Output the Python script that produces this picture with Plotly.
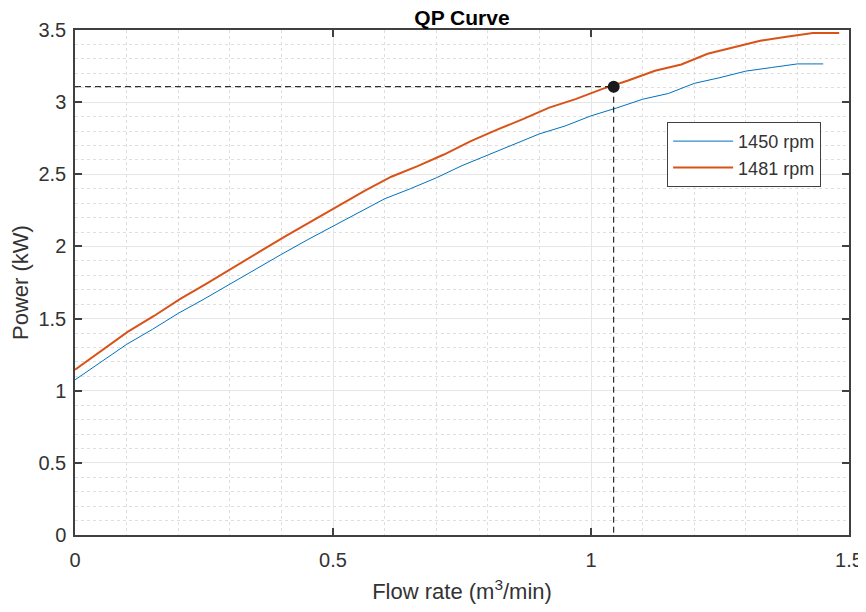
import plotly.graph_objects as go

# Data
flow_1450 = [0.00, 0.05, 0.10, 0.15, 0.20, 0.25, 0.30, 0.35, 0.40, 0.45,
             0.50, 0.55, 0.60, 0.65, 0.70, 0.75, 0.80, 0.85, 0.90, 0.95,
             1.00, 1.05, 1.10, 1.15, 1.20, 1.25, 1.30, 1.35, 1.40, 1.45]
power_1450 = [1.075, 1.200, 1.321, 1.425, 1.536, 1.635, 1.740, 1.841, 1.945, 2.045,
              2.140, 2.240, 2.330, 2.400, 2.475, 2.560, 2.635, 2.705, 2.780, 2.835,
              2.905, 2.960, 3.020, 3.060, 3.130, 3.170, 3.215, 3.240, 3.265, 3.265]

flow_1481 = [0.000, 0.051, 0.102, 0.153, 0.204, 0.255, 0.306, 0.357, 0.409, 0.460,
             0.511, 0.562, 0.613, 0.664, 0.715, 0.766, 0.817, 0.868, 0.919, 0.970,
             1.021, 1.072, 1.124, 1.175, 1.226, 1.277, 1.328, 1.379, 1.430, 1.481]
power_1481 = [1.146, 1.279, 1.408, 1.518, 1.637, 1.742, 1.854, 1.962, 2.073, 2.179,
              2.280, 2.387, 2.483, 2.557, 2.637, 2.728, 2.808, 2.882, 2.962, 3.021,
              3.090, 3.150, 3.218, 3.261, 3.335, 3.378, 3.426, 3.453, 3.479, 3.479]

op_flow = 1.044
op_power = 3.107

x_ticks = [0, 0.5, 1, 1.5]
y_ticks = [0, 0.5, 1, 1.5, 2, 2.5, 3, 3.5]

FONT = "Liberation Sans, Arial, sans-serif"
TXT = "#333333"

fig = go.Figure()
fig.add_trace(go.Scatter(x=flow_1450, y=power_1450, mode="lines", name="1450 rpm",
                         line=dict(color="#0072BD", width=1)))
fig.add_trace(go.Scatter(x=flow_1481, y=power_1481, mode="lines", name="1481 rpm",
                         line=dict(color="#D95319", width=2)))
# guide lines to operating point
fig.add_trace(go.Scatter(x=[0, op_flow], y=[op_power, op_power], mode="lines",
                         showlegend=False, line=dict(color="black", width=1, dash="6px,4px")))
fig.add_trace(go.Scatter(x=[op_flow, op_flow], y=[op_power, 0], mode="lines",
                         showlegend=False, line=dict(color="black", width=1, dash="6px,4px")))
fig.add_trace(go.Scatter(x=[op_flow], y=[op_power], mode="markers", showlegend=False,
                         marker=dict(color="#1a1a1a", size=12)))

axis_common = dict(
    automargin=False,
    showline=True, mirror="ticks", linecolor="#404040", linewidth=1.5,
    ticks="inside", ticklen=7, tickwidth=1.5, tickcolor="#404040",
    showgrid=True, gridcolor="#e6e6e6", gridwidth=1,
    zeroline=False,
    tickfont=dict(family=FONT, size=20, color=TXT),
    title_font=dict(family=FONT, size=22, color=TXT),
    minor=dict(dtick=0.1, showgrid=True, gridcolor="#dedede", griddash="dot",
               gridwidth=1, ticks=""),
)

fig.update_xaxes(range=[0, 1.5], tickvals=x_ticks, ticktext=[str(v) for v in x_ticks],
                 title_text="Flow rate (m<sup>3</sup>/min)", title_standoff=14,
                 ticklabelstandoff=6, **axis_common)
fig.update_yaxes(range=[0, 3.5], tickvals=y_ticks, ticktext=[f"{v:g}" for v in y_ticks],
                 title_text="Power (kW)", title_standoff=5,
                 ticklabelstandoff=3, **axis_common)

fig.update_layout(
    width=866, height=612,
    margin=dict(l=67, r=25, t=22, b=85),
    paper_bgcolor="white", plot_bgcolor="white",
    font=dict(family=FONT, color=TXT),
    title=dict(text="<b>QP Curve</b>", x=454 / 866, xanchor="center",
               y=1 - 10 / 612, yanchor="middle",
               font=dict(family=FONT, size=21, color="#000000")),
    legend=dict(x=0.765, y=0.818, xanchor="left", yanchor="top",
                bgcolor="white", bordercolor="#404040", borderwidth=1,
                font=dict(family=FONT, size=18, color=TXT),
                itemwidth=60, tracegroupgap=0),
    showlegend=True,
)

fig.write_html("out.html")
